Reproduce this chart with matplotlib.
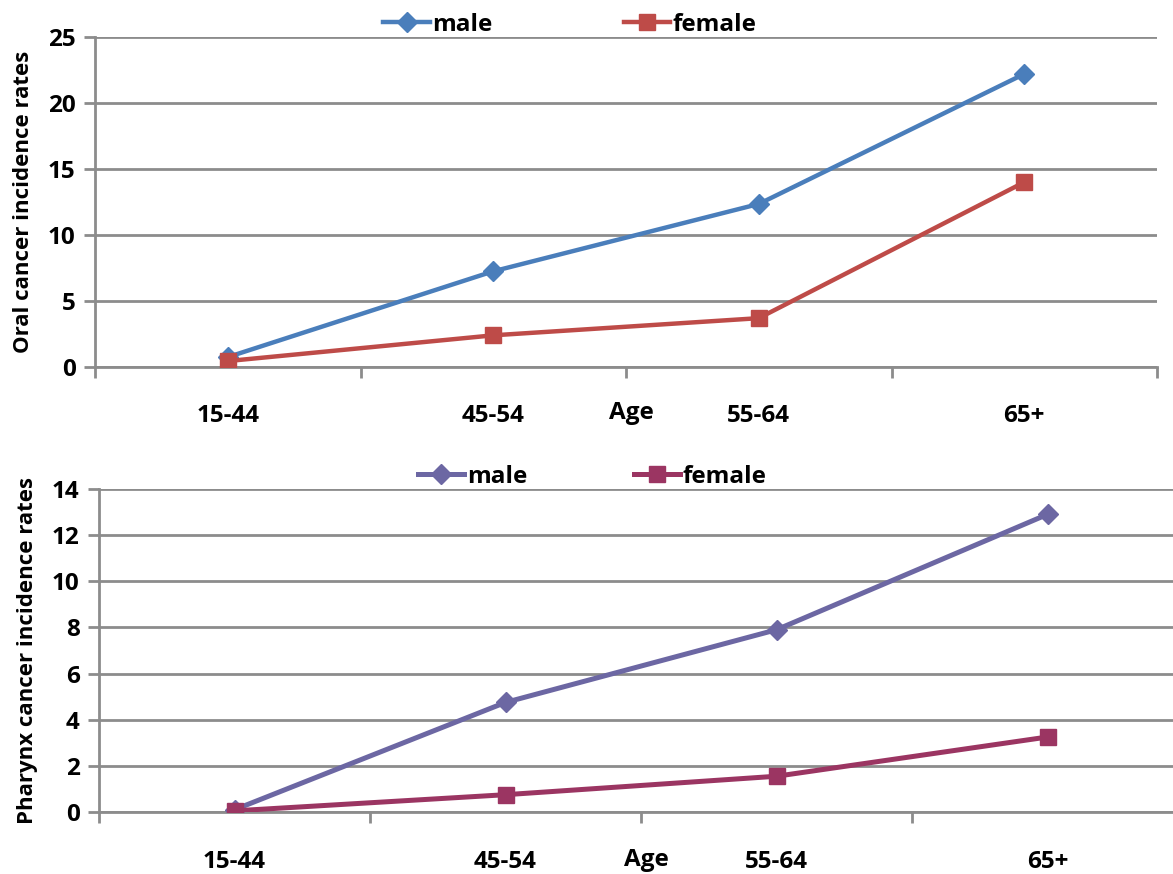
import matplotlib
matplotlib.use("Agg")
import matplotlib.pyplot as plt
import numpy as np

# data
ages = ["15-44", "45-54", "55-64", "65+"]
oral_male = [0.75, 7.25, 12.35, 22.2]
oral_female = [0.45, 2.4, 3.7, 14.0]
pharynx_male = [0.1, 4.75, 7.9, 12.9]
pharynx_female = [0.05, 0.75, 1.55, 3.25]

plt.rcParams['font.family'] = ['Open Sans', 'DejaVu Sans']
plt.rcParams['font.weight'] = 'bold'

W, H = 1173, 874
fig = plt.figure(figsize=(W / 100, H / 100), dpi=100)

grid_col = '#8c8c8c'


def make_axes(left, right, top, bottom):
    return fig.add_axes([left / W, 1 - bottom / H, (right - left) / W, (bottom - top) / H])


def style_axes(ax, ymax, ystep, ylabel, male, female, c_male, c_female, lw,
               leg_x, leg_gap, age_y):
    x = np.arange(len(ages))
    ax.plot(x, male, color=c_male, lw=lw, marker='D', ms=10, label='male', zorder=3)
    ax.plot(x, female, color=c_female, lw=lw, marker='s', ms=11, label='female', zorder=3)
    ax.set_xlim(-0.5, len(ages) - 0.5)
    ax.set_ylim(0, ymax)
    ax.set_yticks(np.arange(0, ymax + 0.01, ystep))
    ax.yaxis.grid(True, color=grid_col, lw=2)
    ax.set_axisbelow(True)
    for s in ['top', 'right']:
        ax.spines[s].set_visible(False)
    for s in ['left', 'bottom']:
        ax.spines[s].set_color(grid_col)
        ax.spines[s].set_linewidth(2)
    ax.set_xticks(x)
    ax.set_xticklabels(ages, fontsize=17.5, fontweight='bold')
    ax.set_xticks(np.arange(-0.5, len(ages)), minor=True)
    ax.tick_params(axis='x', which='major', length=0, pad=27)
    ax.tick_params(axis='x', which='minor', length=8, width=2, color=grid_col)
    ax.tick_params(axis='y', length=8, width=2, color=grid_col, labelsize=17.5, pad=6)
    for lab in ax.get_yticklabels():
        lab.set_fontweight('bold')
    ax.set_ylabel(ylabel, fontsize=16, fontweight='bold', labelpad=10)
    ax.text(0.505, age_y, 'Age', transform=ax.transAxes, ha='center', va='center',
            fontsize=17.5, fontweight='bold')
    ax.legend(loc='lower center', bbox_to_anchor=(leg_x, 1.0), ncol=2, frameon=False,
              fontsize=17.5, handlelength=1.9, handletextpad=0.1, columnspacing=leg_gap,
              borderaxespad=0, borderpad=0)


ax1 = make_axes(95, 1157, 37, 367)
style_axes(ax1, 25, 5, 'Oral cancer incidence rates', oral_male, oral_female,
           '#4a7ebb', '#be4b48', 3.2, 0.447, 5.4, -0.14)

ax2 = make_axes(99, 1183, 489, 812)
style_axes(ax2, 14, 2, 'Pharynx cancer incidence rates', pharynx_male, pharynx_female,
           '#6c67a3', '#9b3562', 3.6, 0.455, 4.4, -0.15)

fig.savefig('out.png', dpi=100)
